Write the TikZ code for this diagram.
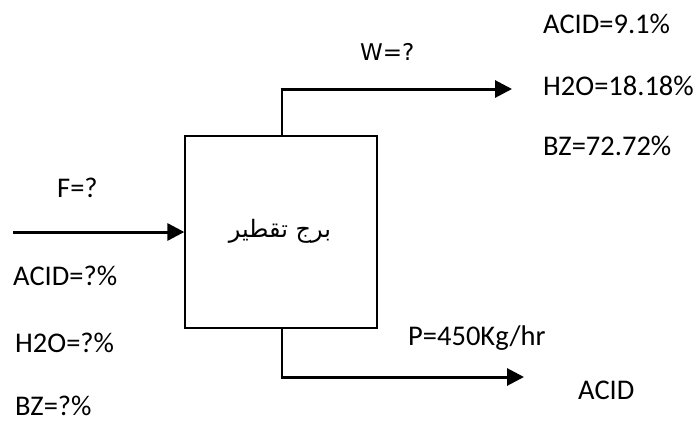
\documentclass[tikz,border=0pt]{standalone}
\usepackage{fontspec}
\setmainfont{Carlito}
\newfontfamily\dejavu{DejaVu Sans}
\newfontfamily\arabicfont[Script=Arabic]{DejaVu Sans}
\TeXXeTstate=1
\usetikzlibrary{arrows.meta}
\begin{document}
\begin{tikzpicture}[x=1pt,y=-1pt,
  lbl/.style={inner sep=0pt,anchor=base west,font=\fontsize{28.5}{34}\selectfont},
  flow/.style={line width=3pt,-{Triangle[length=17pt,width=17pt]}},
  thinline/.style={line width=1.3pt}]
\useasboundingbox (0,0) rectangle (697,421);
% column box
\node[draw,line width=1.3pt,minimum width=192pt,minimum height=192pt,inner sep=0pt] (tower) at (281,232) {};
\node[inner sep=0pt] (tname) at (280,231) {\fontsize{24}{28}\selectfont\arabicfont\beginR برج تقطير\endR};
% feed
\coordinate (fin) at (13,232);
\draw[flow] (fin) -- (tower.west);
% top stream
\coordinate (tjoin) at (282,89);
\coordinate (tout) at (512,89);
\draw[thinline] (tower.north -| tjoin) -- (tjoin);
\draw[flow] ([xshift=-1.5pt]tjoin) -- (tout);
% bottom stream
\coordinate (bjoin) at (282,377);
\coordinate (bout) at (524,377);
\draw[thinline] (tower.south -| bjoin) -- (bjoin);
\draw[flow] ([xshift=-1.5pt]bjoin) -- (bout);
% labels
\node[lbl] (F) at (57,197) {F=?};
\node[lbl] (fa) at (13,285) {ACID=?\%};
\node[lbl] (fh) at (15,352) {H2O=?\%};
\node[lbl] (fb) at (15,415) {BZ=?\%};
\node[lbl,font=\dejavu\fontsize{23}{28}\selectfont] (W) at (360,60) {W=?};
\node[lbl] (wa) at (543,33) {ACID=9.1\%};
\node[lbl] (wh) at (543,95) {H2O=18.18\%};
\node[lbl] (wb) at (543,155) {BZ=72.72\%};
\node[lbl] (P) at (408,345) {P=450Kg/hr};
\node[lbl] (pa) at (578,399) {ACID};
\end{tikzpicture}
\end{document}
